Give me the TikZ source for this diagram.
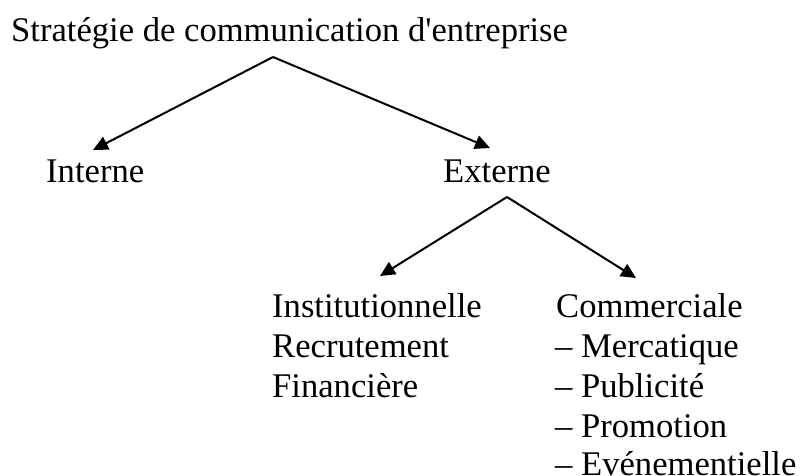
\documentclass[tikz,border=0pt]{standalone}
\usepackage{fontspec}
\newfontfamily\tnr{Liberation Serif}
\usetikzlibrary{arrows.meta}
\begin{document}
\begin{tikzpicture}[x=1pt,y=-1pt,
  lbl/.style={anchor=base west,inner sep=0pt,font=\tnr\fontsize{34.6}{40}\selectfont},
  arr/.style={line width=2pt,-{Triangle[length=15pt,width=14pt]}}]
\useasboundingbox (0,0) rectangle (800,475);
\node[lbl] (title) at (11,41.7) {Stratégie de communication d'entreprise};
\node[lbl] (int) at (46,182) {Interne};
\node[lbl] (ext) at (443,182) {Externe};
\node[lbl] (inst) at (272,317) {Institutionnelle};
\node[lbl] (recr) at (272,357) {Recrutement};
\node[lbl] (fin) at (272,397) {Financière};
\node[lbl] (comm) at (556,317) {Commerciale};
\node[lbl] (merc) at (555,357) {– Mercatique};
\node[lbl] (pub) at (555,397) {– Publicité};
\node[lbl] (prom) at (555,437) {– Promotion};
\node[lbl] (even) at (555,475.5) {– Evénementielle};
\coordinate (a1) at (273,57);
\coordinate (tInt) at (93,150);
\coordinate (tExt) at (490,148);
\coordinate (a2) at (507,197);
\coordinate (tInst) at (380,276);
\coordinate (tComm) at (636,278);
\draw[arr] (a1) -- (tInt);
\draw[arr] (a1) -- (tExt);
\draw[arr] (a2) -- (tInst);
\draw[arr] (a2) -- (tComm);
\end{tikzpicture}
\end{document}
